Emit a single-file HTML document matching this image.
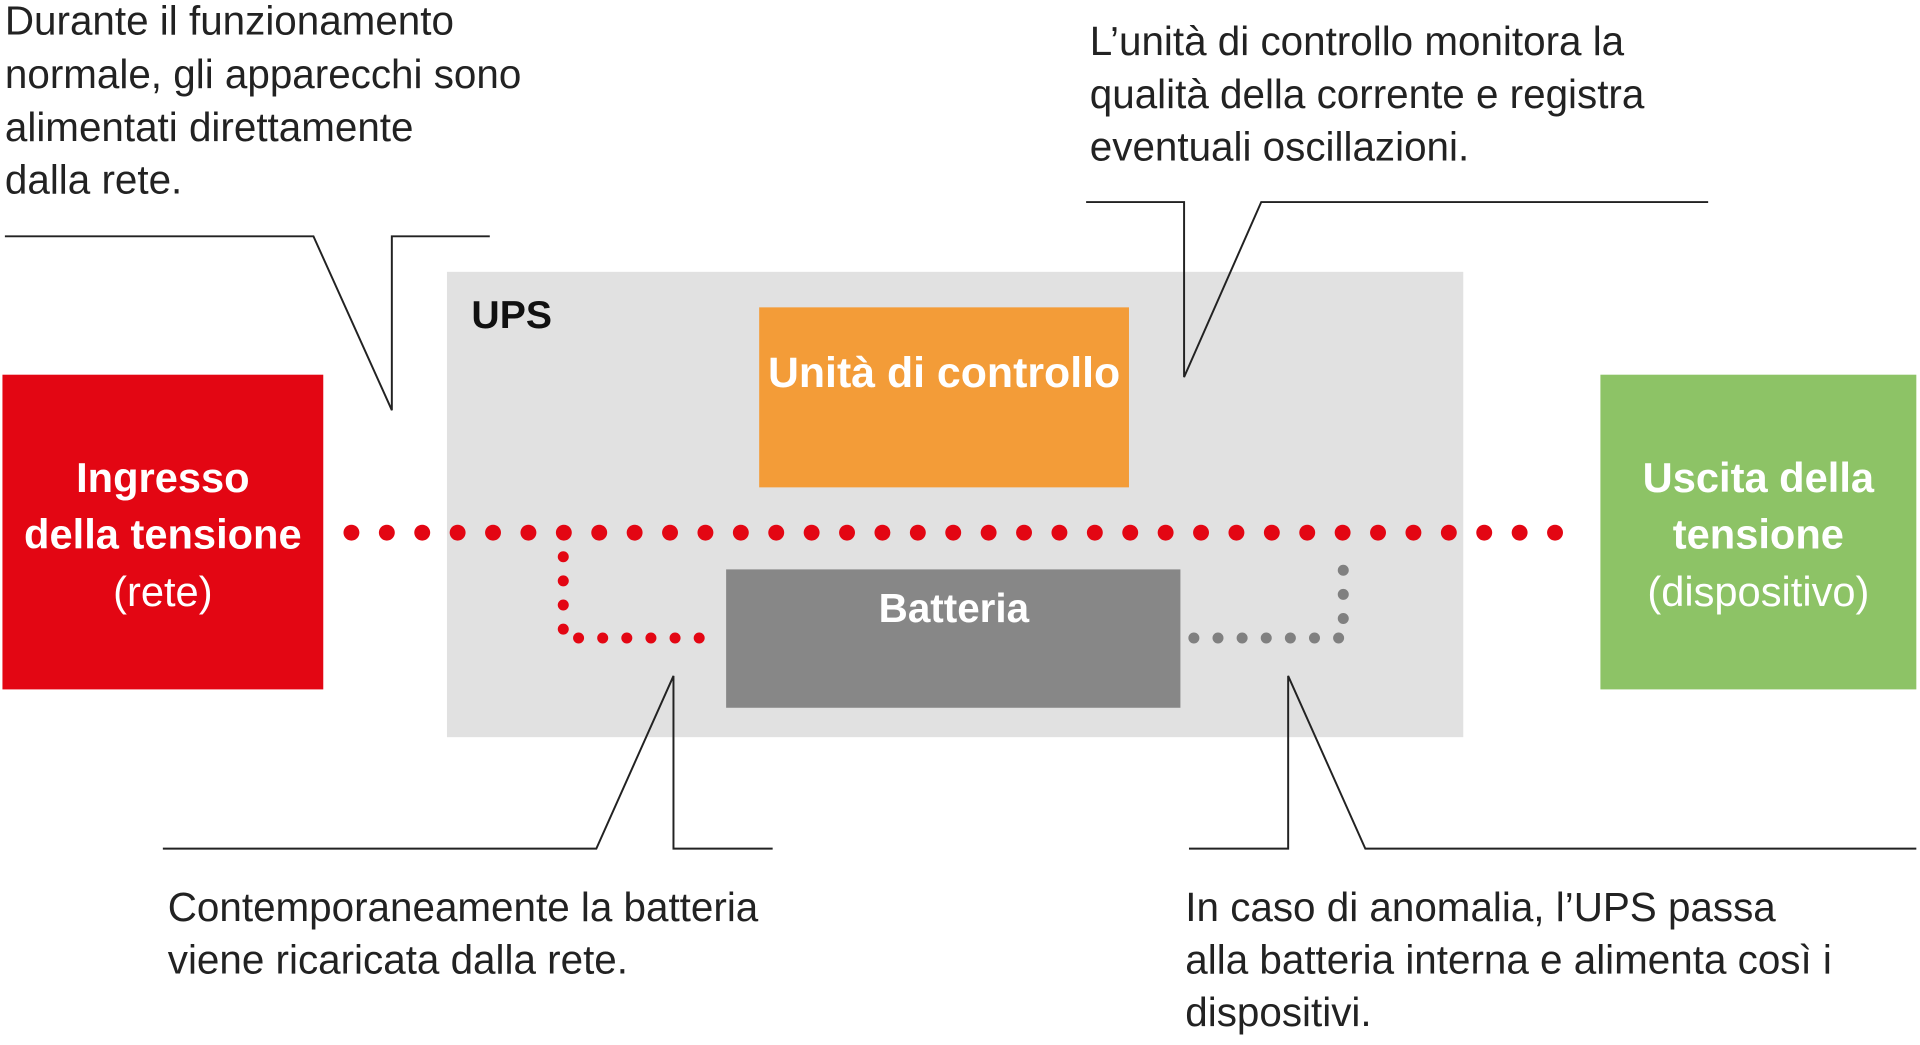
<!DOCTYPE html>
<html><head><meta charset="utf-8"><style>
html,body{margin:0;padding:0;background:#fff;width:1920px;height:1045px;overflow:hidden}
svg{display:block}
.t{font-family:"Liberation Sans",sans-serif;font-size:33px;fill:#222;font-weight:300}
.b{font-family:"Liberation Sans",sans-serif;font-weight:bold;fill:#fff}
.l{font-family:"Liberation Sans",sans-serif;fill:#fff}
</style></head><body>
<svg width="1920" height="1045" viewBox="0 0 1568 853.4" preserveAspectRatio="none" xmlns="http://www.w3.org/2000/svg">
<rect x="365" y="222" width="830" height="380" fill="#e1e1e1"/>
<text x="385" y="268" font-family="Liberation Sans,sans-serif" font-weight="bold" font-size="32" fill="#111">UPS</text>
<rect x="620" y="251" width="302" height="147" fill="#f39c38"/>
<text x="771" y="316" class="b" font-size="35" text-anchor="middle">Unità di controllo</text>
<rect x="2" y="306" width="262" height="257" fill="#e30613"/>
<text x="133" y="402" class="b" font-size="34" text-anchor="middle">Ingresso</text>
<text x="133" y="448" class="b" font-size="34" text-anchor="middle">della tensione</text>
<text x="133" y="495" class="l" font-size="34" text-anchor="middle">(rete)</text>
<rect x="1307" y="306" width="258" height="257" fill="#8dc366"/>
<text x="1436" y="402" class="b" font-size="34" text-anchor="middle">Uscita della</text>
<text x="1436" y="448" class="b" font-size="34" text-anchor="middle">tensione</text>
<text x="1436" y="495" class="l" font-size="34" text-anchor="middle">(dispositivo)</text>
<rect x="593" y="465" width="371" height="113" fill="#878787"/>
<text x="779" y="508" class="b" font-size="33" text-anchor="middle">Batteria</text>
<line x1="287" y1="435" x2="1270" y2="435" stroke="#e30613" stroke-width="13" stroke-linecap="round" stroke-dasharray="0 28.91"/>
<polyline points="460,435 460,521 578,521" fill="none" stroke="#e30613" stroke-width="9" stroke-linecap="round" stroke-dasharray="0 19.7"/>
<polyline points="975,521 1097,521 1097,455" fill="none" stroke="#808080" stroke-width="9" stroke-linecap="round" stroke-dasharray="0 19.7"/>
<g fill="none" stroke="#222" stroke-width="1.6">
<polyline points="4,193 256,193 320,335 320,193 400,193"/>
<polyline points="887,165 967,165 967,308 1030,165 1395,165"/>
<polyline points="133,693 487,693 550,552 550,693 631,693"/>
<polyline points="971,693 1052,693 1052,552 1115,693 1565,693"/>
</g>
<text class="t" x="4" y="28">Durante il funzionamento</text>
<text class="t" x="4" y="72">normale, gli apparecchi sono</text>
<text class="t" x="4" y="115">alimentati direttamente</text>
<text class="t" x="4" y="158">dalla rete.</text>
<text class="t" x="890" y="45">L’unità di controllo monitora la</text>
<text class="t" x="890" y="88">qualità della corrente e registra</text>
<text class="t" x="890" y="131">eventuali oscillazioni.</text>
<text class="t" x="137" y="752">Contemporaneamente la batteria</text>
<text class="t" x="137" y="795">viene ricaricata dalla rete.</text>
<text class="t" x="968" y="752">In caso di anomalia, l’UPS passa</text>
<text class="t" x="968" y="795">alla batteria interna e alimenta così i</text>
<text class="t" x="968" y="838">dispositivi.</text>
</svg>
</body></html>
